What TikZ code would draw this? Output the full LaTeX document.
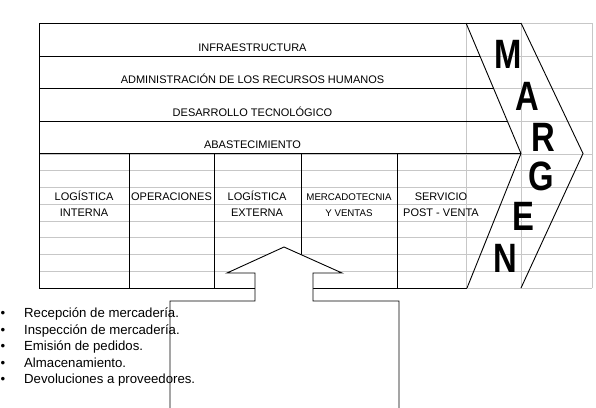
\documentclass[tikz,border=0pt]{standalone}
\usepackage{fontspec}
\setmainfont{Liberation Sans}
\begin{document}
\begin{tikzpicture}[x=1pt,y=-1pt,line join=miter,
  font=\fontsize{11}{16.5}\selectfont,
  grid/.style={draw=black!22,line width=.8pt},
  edge/.style={line width=.9pt},
  band/.style={anchor=base,inner sep=0pt},
  celda/.style={anchor=base,inner sep=0pt,align=center},
  letra/.style={inner sep=0pt,xscale=.8,font=\fontsize{41}{41}\selectfont\bfseries},
  item/.style={anchor=base west,inner sep=0pt,font=\fontsize{13.2}{16.5}\selectfont}]
\useasboundingbox (0,0) rectangle (596,407);
\foreach \y in {23,56,88,121} \draw[grid] (466,\y)--(592,\y);
\foreach \k in {0,...,8} \draw[grid] (39,154+\k*16.75)--(592,154+\k*16.75);
\foreach \x in {466,521,592} \draw[grid] (\x,23)--(\x,288);
\path (466,23) coordinate (m1) (521,153.5) coordinate (m2) (467,288) coordinate (m3)
(521,23) coordinate (n1) (583,153.5) coordinate (n2) (521,288) coordinate (n3);
\draw[edge] (n1)--(39,23)--(39,288)--(m3);
\draw[edge] (m1)--(m2)--(m3) (n1)--(n2)--(n3);
\foreach \y [evaluate=\y as \xe using 466+(\y-23)*55/130.5] in {56,88,121}
\draw[edge] (39,\y)--(\xe,\y);
\draw[edge] (39,153.5)--(m2);
\foreach \x in {129,214,301,397} \draw[edge] (\x,153.5)--(\x,288);
\draw[edge,fill=white] (170,412)--(170,301)--(255,301)--(255,273)--(227,273)--(284,247)
--(342,273)--(313,273)--(313,301)--(399,301)--(399,412);
\node[band] (infra) at (252.5,51) {INFRAESTRUCTURA};
\node[band] (rrhh) at (252.5,83) {ADMINISTRACIÓN DE LOS RECURSOS HUMANOS};
\node[band] (tecno) at (252.5,116) {DESARROLLO TECNOLÓGICO};
\node[band] (abast) at (252.5,148) {ABASTECIMIENTO};
\node[celda] (login) at (84,216.5) {LOGÍSTICA\\INTERNA};
\node[celda] (oper) at (171.5,200) {OPERACIONES};
\node[celda] (logex) at (257,216.5) {LOGÍSTICA\\EXTERNA};
\node[celda,font=\fontsize{9.7}{16.5}\selectfont] (merc) at (349,216.5) {MERCADOTECNIA\\Y VENTAS};
\node[celda] (serv) at (441,216.5) {SERVICIO\\POST - VENTA};
\node[letra] (lm) at (508,54.5) {M};
\node[letra] (la) at (527.5,96) {A};
\node[letra] (lr) at (543.5,137.5) {R};
\node[letra] (lg) at (541,176) {G};
\node[letra] (le) at (523.5,216) {E};
\node[letra] (ln) at (505.5,258) {N};
\foreach \t [count=\i] in {Recepción de mercadería.,Inspección de mercadería.,Emisión de pedidos.,Almacenamiento.,Devoluciones a proveedores.}
\node[item] (b\i) at (24,301.2+\i*16.5) {\llap{\textbullet\hspace{19pt}}\t};
\end{tikzpicture}
\end{document}
